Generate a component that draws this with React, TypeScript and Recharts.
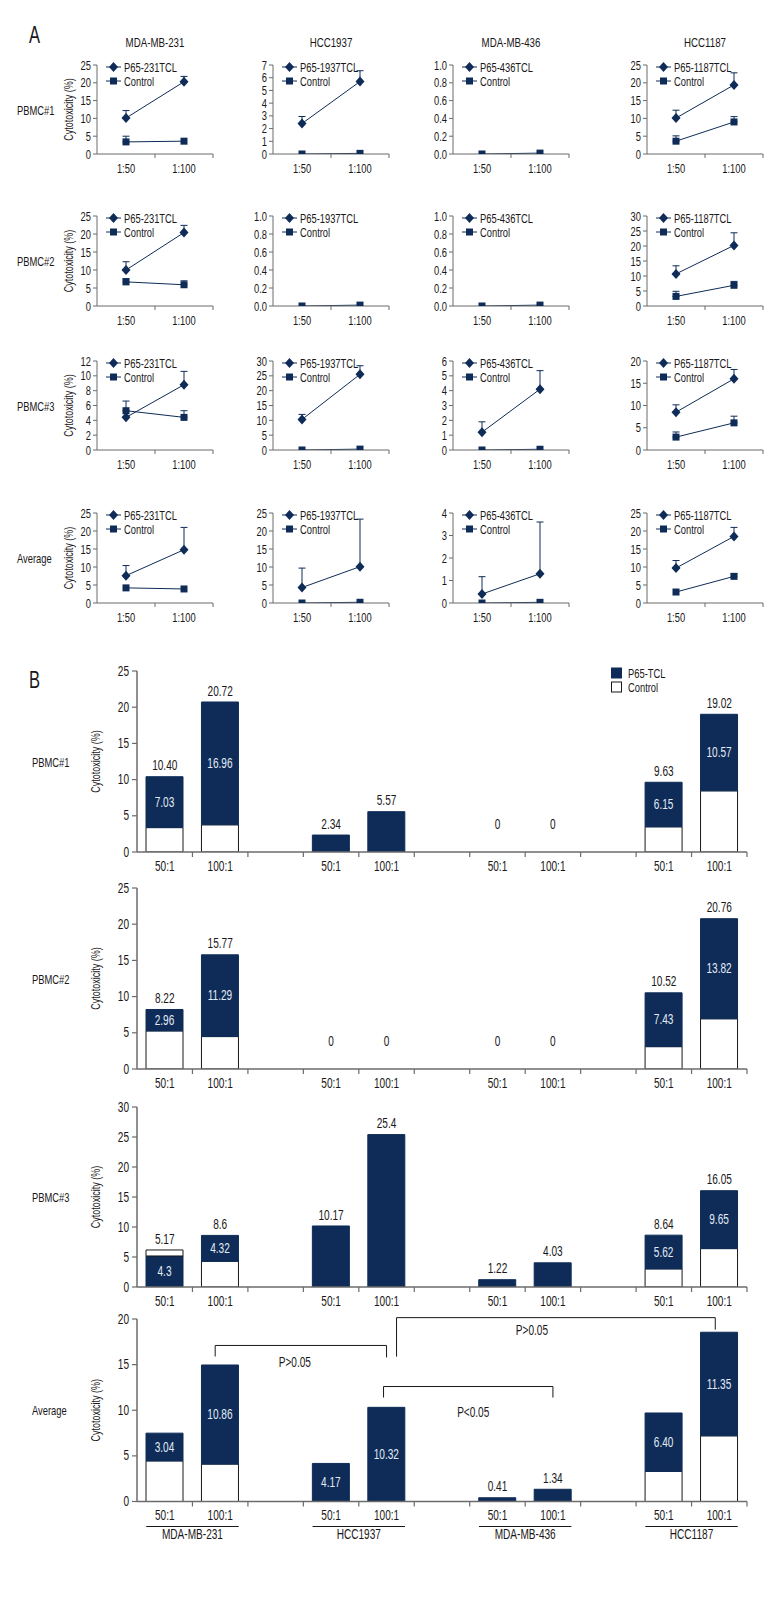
import React from 'react';
import {
  LineChart,
  Line,
  XAxis,
  YAxis,
  ErrorBar,
  BarChart,
  Bar,
  LabelList,
  ReferenceLine,
  ReferenceDot,
} from 'recharts';

const NAVY = '#0e2c57';
const AXIS_GREY = '#6b6b6b';
const INK = '#1a1718';
const FONT = "'Liberation Sans', Arial, sans-serif";
const SQ = 0.72; // horizontal squeeze, the original uses a condensed face

// ---------------- panel A data ----------------
const CELL_LINES = ['MDA-MB-231', 'HCC1937', 'MDA-MB-436', 'HCC1187'];
const DONORS = ['PBMC#1', 'PBMC#2', 'PBMC#3', 'Average'];
const RATIOS_A = ['1:50', '1:100'];
const TCL_NAMES = ['P65-231TCL', 'P65-1937TCL', 'P65-436TCL', 'P65-1187TCL'];

// [donor][cell line] = [1:50, 1:100]
const P65_A = [
  [[10.1, 20.3], [2.4, 5.7], [null, null], [10.1, 19.4]],
  [[10.0, 20.4], [null, null], [null, null], [10.7, 20.2]],
  [[4.4, 8.8], [10.3, 25.5], [1.2, 4.1], [8.5, 16.0]],
  [[7.6, 14.8], [4.3, 10.1], [0.4, 1.3], [9.7, 18.5]],
];
const P65_ERR_A = [
  [[2.1, 1.5], [0.55, 0.85], [0, 0], [2.2, 3.4]],
  [[2.3, 2.0], [0, 0], [0, 0], [2.7, 4.2]],
  [[0, 1.8], [1.7, 2.9], [0.7, 1.25], [1.65, 2.1]],
  [[2.8, 6.2], [5.4, 13.2], [0.77, 2.3], [2.1, 2.5]],
];
const CONTROL_A = [
  [[3.4, 3.6], [0, 0.05], [0, 0.01], [3.6, 9.0]],
  [[6.7, 5.9], [0, 0.01], [0, 0.01], [3.2, 6.9]],
  [[5.3, 4.4], [0, 0.3], [0, 0.05], [2.9, 6.1]],
  [[4.2, 3.9], [0, 0.2], [0, 0.03], [3.05, 7.4]],
];
const CONTROL_ERR_A = [
  [[1.6, 0], [0, 0], [0, 0], [1.5, 1.5]],
  [[0.9, 1.1], [0, 0], [0, 0], [1.7, 1.3]],
  [[1.3, 0.9], [0, 0], [0, 0], [1.15, 1.5]],
  [[0, 0], [0, 0], [0, 0], [0, 0.7]],
];

const T25 = [0, 5, 10, 15, 20, 25];
const T30 = [0, 5, 10, 15, 20, 25, 30];
const T20 = [0, 5, 10, 15, 20];
const T12 = [0, 2, 4, 6, 8, 10, 12];
const T7 = [0, 1, 2, 3, 4, 5, 6, 7];
const T6 = [0, 1, 2, 3, 4, 5, 6];
const T4 = [0, 1, 2, 3, 4];
const T1 = [0, 0.2, 0.4, 0.6, 0.8, 1.0];
const Y_TICKS_A = [
  [T25, T7, T1, T25],
  [T25, T1, T1, T30],
  [T12, T30, T6, T20],
  [T25, T25, T4, T25],
];

// ---------------- panel B data ----------------
const B_KEYS = ['231-50', '231-100', 'gap-1', '1937-50', '1937-100', 'gap-2', '436-50', '436-100', 'gap-3', '1187-50', '1187-100'];
const B_TICK_LABELS = ['50:1', '100:1', '', '50:1', '100:1', '', '50:1', '100:1', '', '50:1', '100:1'];

const PBMC1_CONTROL = [3.37, 3.76, 0, 0, 0, 0, 0, 0, 0, 3.48, 8.45];
const PBMC1_P65 = [7.03, 16.96, 0, 2.34, 5.57, 0, 0, 0, 0, 6.15, 10.57];
const PBMC1_EXTRA = [0, 0, 0, 0, 0, 0, 0, 0, 0, 0, 0];
const PBMC1_TOP = ['10.40', '20.72', null, '2.34', '5.57', null, '0', '0', null, '9.63', '19.02'];
const PBMC1_INNER = ['7.03', '16.96', null, null, null, null, null, null, null, '6.15', '10.57'];

const PBMC2_CONTROL = [5.26, 4.48, 0, 0, 0, 0, 0, 0, 0, 3.09, 6.94];
const PBMC2_P65 = [2.96, 11.29, 0, 0, 0, 0, 0, 0, 0, 7.43, 13.82];
const PBMC2_EXTRA = [0, 0, 0, 0, 0, 0, 0, 0, 0, 0, 0];
const PBMC2_TOP = ['8.22', '15.77', null, '0', '0', null, '0', '0', null, '10.52', '20.76'];
const PBMC2_INNER = ['2.96', '11.29', null, null, null, null, null, null, null, '7.43', '13.82'];

const PBMC3_CONTROL = [0, 4.28, 0, 0, 0, 0, 0, 0, 0, 3.02, 6.4];
const PBMC3_P65 = [5.17, 4.32, 0, 10.17, 25.4, 0, 1.22, 4.03, 0, 5.62, 9.65];
const PBMC3_EXTRA = [1.0, 0, 0, 0, 0, 0, 0, 0, 0, 0, 0];
const PBMC3_TOP = ['5.17', '8.6', null, '10.17', '25.4', null, '1.22', '4.03', null, '8.64', '16.05'];
const PBMC3_INNER = ['4.3', '4.32', null, null, null, null, null, null, null, '5.62', '9.65'];

const AVG_CONTROL = [4.45, 4.1, 0, 0, 0, 0, 0, 0, 0, 3.3, 7.2];
const AVG_P65 = [3.04, 10.86, 0, 4.17, 10.32, 0, 0.41, 1.34, 0, 6.4, 11.35];
const AVG_EXTRA = [0, 0, 0, 0, 0, 0, 0, 0, 0, 0, 0];
const AVG_TOP = [null, null, null, null, null, null, '0.41', '1.34', null, null, null];
const AVG_INNER = ['3.04', '10.86', null, '4.17', '10.32', null, null, null, null, '6.40', '11.35'];

const B_CONTROL = [PBMC1_CONTROL, PBMC2_CONTROL, PBMC3_CONTROL, AVG_CONTROL];
const B_P65 = [PBMC1_P65, PBMC2_P65, PBMC3_P65, AVG_P65];
const B_EXTRA = [PBMC1_EXTRA, PBMC2_EXTRA, PBMC3_EXTRA, AVG_EXTRA];
const B_TOP_LABELS = [PBMC1_TOP, PBMC2_TOP, PBMC3_TOP, AVG_TOP];
const B_INNER_LABELS = [PBMC1_INNER, PBMC2_INNER, PBMC3_INNER, AVG_INNER];
const B_Y_TICKS = [T25, T25, T30, T20];

// significance brackets on the Average chart
const BRACKETS = [
  { from: '231-100', to: '1937-100', top: 17.1, dxFrom: -5, dxTo: 0, dropFrom: 11, dropTo: 12, text: 'P>0.05', textDx: -6, textDy: 17 },
  { from: '1937-100', to: '1187-100', top: 20.15, dxFrom: 10, dxTo: -4, dropFrom: 39, dropTo: 12, text: 'P>0.05', textDx: -24, textDy: 13 },
  { from: '1937-100', to: '436-100', top: 12.6, dxFrom: -3, dxTo: 0, dropFrom: 11, dropTo: 11, text: 'P<0.05', textDx: 5, textDy: 26 },
];

// ---------------- layout ----------------
const A_COL_X = [97, 273, 453, 647];
const A_ROW_TOP = [65, 216, 361, 513];
const A_ROW_ZERO = [154, 306, 450, 603];
const A_PLOT_W = 116;
const A_YAXIS_W = 40;

const B_AXIS_X = 137;
const B_PLOT_W = 610;
const B_YAXIS_W = 50;
const B_TOP = [671, 888, 1107, 1319];
const B_ZERO = [852, 1069, 1287, 1501.5];

// squeezed svg text
const NText = ({ x, y, anchor = 'middle', size = 13, fill = INK, rotate = 0, children }: any) => (
  <g transform={`translate(${x},${y})${rotate ? ` rotate(${rotate})` : ''} scale(${SQ},1)`}>
    <text x={0} y={0} textAnchor={anchor} dominantBaseline="central" fontSize={size} fill={fill}>
      {children}
    </text>
  </g>
);

const diamondPath = (cx: number, cy: number) =>
  `M${cx},${cy - 5}L${cx + 4.5},${cy}L${cx},${cy + 5}L${cx - 4.5},${cy}Z`;

const diamondDot = (p: any) => {
  if (p.cy == null || p.value == null) return <g key={`d-${p.index}`} />;
  return <path key={`d-${p.index}`} d={diamondPath(p.cx, p.cy)} fill={NAVY} />;
};

const squareDot = (p: any) => {
  if (p.cy == null || p.value == null) return <g key={`s-${p.index}`} />;
  return <rect key={`s-${p.index}`} x={p.cx - 3.5} y={p.cy - 3.5} width={7} height={7} fill={NAVY} />;
};

const errPair = (e: number) => (e && e > 0 ? [0, e] : null);

const AxisTitle = (props: any) => {
  const { viewBox, dx } = props;
  return (
    <NText x={viewBox.x + dx} y={viewBox.y + viewBox.height / 2} rotate={-90} size={12.5}>
      Cytotoxicity (%)
    </NText>
  );
};

const YTick = (props: any) => {
  const { x, y, payload, decimals, size } = props;
  return (
    <NText x={x} y={y} anchor="end" size={size}>
      {Number(payload.value).toFixed(decimals)}
    </NText>
  );
};

const RatioTick = (props: any) => {
  const { x, y, payload, half } = props;
  return (
    <g>
      <line x1={x + half} x2={x + half} y1={y} y2={y + 4} stroke={AXIS_GREY} />
      <NText x={x} y={y + 14} size={13}>{payload.value}</NText>
    </g>
  );
};

const LegendA = ({ name }: { name: string }) => (
  <svg
    width={110}
    height={30}
    style={{ position: 'absolute', left: A_YAXIS_W + 8, top: 0, overflow: 'visible' }}
  >
    <line x1={1} x2={16} y1={8} y2={8} stroke={NAVY} />
    <path d={diamondPath(8.5, 8)} fill={NAVY} />
    <NText x={19} y={8} anchor="start" size={13}>{name}</NText>
    <line x1={1} x2={16} y1={22} y2={22} stroke={NAVY} />
    <rect x={5} y={18.5} width={7} height={7} fill={NAVY} />
    <NText x={19} y={22} anchor="start" size={13}>Control</NText>
  </svg>
);

function SmallChart({ row, col }: { row: number; col: number }) {
  const top = A_ROW_TOP[row];
  const plotH = A_ROW_ZERO[row] - top;
  const ticks = Y_TICKS_A[row][col];
  const yMax = ticks[ticks.length - 1];
  const decimals = yMax <= 1 ? 1 : 0;
  const data = RATIOS_A.map((ratio, i) => ({
    ratio,
    p65: P65_A[row][col][i],
    p65Err: errPair(P65_ERR_A[row][col][i]),
    control: CONTROL_A[row][col][i],
    controlErr: errPair(CONTROL_ERR_A[row][col][i]),
  }));
  const half = A_PLOT_W / 4;
  return (
    <div style={{ position: 'absolute', left: A_COL_X[col] - A_YAXIS_W, top: top - 6 }}>
      <LineChart
        width={A_YAXIS_W + A_PLOT_W + 4}
        height={6 + plotH + 22}
        data={data}
        margin={{ top: 6, right: 4, bottom: 0, left: 0 }}
      >
        <XAxis
          dataKey="ratio"
          height={22}
          padding={{ left: half, right: half }}
          interval={0}
          axisLine={{ stroke: AXIS_GREY }}
          tickLine={false}
          tickSize={0}
          tickMargin={0}
          tick={(p: any) => <RatioTick {...p} half={half} />}
        />
        <YAxis
          width={A_YAXIS_W}
          domain={[0, yMax]}
          ticks={ticks}
          interval={0}
          allowDataOverflow
          tickSize={4}
          tickMargin={2}
          axisLine={{ stroke: AXIS_GREY }}
          tickLine={{ stroke: AXIS_GREY }}
          tick={(p: any) => <YTick {...p} decimals={decimals} size={13} />}
          label={col === 0 ? <AxisTitle dx={11} /> : undefined}
        />
        <Line dataKey="p65" stroke={NAVY} strokeWidth={1} dot={diamondDot} isAnimationActive={false}>
          <ErrorBar dataKey="p65Err" direction="y" width={3.5} stroke={NAVY} strokeWidth={1} />
        </Line>
        <Line dataKey="control" stroke={NAVY} strokeWidth={1} dot={squareDot} isAnimationActive={false}>
          <ErrorBar dataKey="controlErr" direction="y" width={3.5} stroke={NAVY} strokeWidth={1} />
        </Line>
      </LineChart>
      <LegendA name={TCL_NAMES[col]} />
    </div>
  );
}

const BarTick = (props: any) => {
  const { x, y, index, band, groups } = props;
  const label = B_TICK_LABELS[index];
  return (
    <g>
      <line x1={x + band / 2} x2={x + band / 2} y1={y} y2={y + 5} stroke={AXIS_GREY} strokeWidth={1.2} />
      {label ? <NText x={x} y={y + 14} size={14}>{label}</NText> : null}
      {groups && label === '50:1' ? (
        <g>
          <line x1={x - 18.5} x2={x + band + 18.5} y1={y + 25} y2={y + 25} stroke={INK} />
          <NText x={x + band / 2} y={y + 33} size={14}>{CELL_LINES[Math.floor(index / 3)]}</NText>
        </g>
      ) : null}
    </g>
  );
};

const InnerLabel = (props: any) => {
  const { value } = props;
  if (value == null || value === '') return null;
  const vb = props.viewBox || props;
  return (
    <NText x={vb.x + vb.width / 2} y={vb.y + vb.height / 2} size={14} fill="#e3ebf6">
      {value}
    </NText>
  );
};

const BracketShape = (props: any) => {
  const { x1, y1, x2, b } = props;
  const xa = x1 + b.dxFrom;
  const xb = x2 + b.dxTo;
  return (
    <g>
      <path
        d={`M${xa},${y1 + b.dropFrom}V${y1}H${xb}V${y1 + b.dropTo}`}
        fill="none"
        stroke={INK}
        strokeWidth={1}
      />
      <NText x={(xa + xb) / 2 + b.textDx} y={y1 + b.textDy} size={14}>{b.text}</NText>
    </g>
  );
};

function StackedChart({ idx }: { idx: number }) {
  const top = B_TOP[idx];
  const plotH = B_ZERO[idx] - top;
  const ticks = B_Y_TICKS[idx];
  const band = B_PLOT_W / B_KEYS.length;
  const isAverage = idx === 3;
  const data = B_KEYS.map((key, i) => ({
    key,
    control: B_CONTROL[idx][i],
    p65: B_P65[idx][i],
    extra: B_EXTRA[idx][i],
    topLabel: B_TOP_LABELS[idx][i],
    innerLabel: B_INNER_LABELS[idx][i],
  }));
  return (
    <div style={{ position: 'absolute', left: 0, top: top - 10 }}>
      <BarChart
        width={780}
        height={10 + plotH + 45}
        data={data}
        barSize={37}
        margin={{ top: 10, right: 780 - B_AXIS_X - B_PLOT_W, bottom: 0, left: B_AXIS_X - B_YAXIS_W }}
      >
        <XAxis
          dataKey="key"
          height={45}
          interval={0}
          axisLine={{ stroke: AXIS_GREY, strokeWidth: 1.5 }}
          tickLine={false}
          tickSize={0}
          tickMargin={0}
          tick={(p: any) => <BarTick {...p} band={band} groups={isAverage} />}
        />
        <YAxis
          width={B_YAXIS_W}
          domain={[0, ticks[ticks.length - 1]]}
          ticks={ticks}
          interval={0}
          allowDataOverflow
          tickSize={5}
          tickMargin={3}
          axisLine={{ stroke: AXIS_GREY, strokeWidth: 1.5 }}
          tickLine={{ stroke: AXIS_GREY, strokeWidth: 1.2 }}
          tick={(p: any) => <YTick {...p} decimals={0} size={14} />}
          label={<AxisTitle dx={8} />}
        />
        <Bar dataKey="control" stackId="s" fill="#ffffff" stroke={INK} strokeWidth={1} isAnimationActive={false} />
        <Bar dataKey="p65" stackId="s" fill={NAVY} stroke={NAVY} strokeWidth={1} isAnimationActive={false}>
          <LabelList dataKey="innerLabel" content={InnerLabel} />
        </Bar>
        <Bar dataKey="extra" stackId="s" fill="#ffffff" stroke={INK} strokeWidth={1} isAnimationActive={false} />
        {data.map((d) =>
          d.topLabel != null ? (
            <ReferenceDot
              key={`top-${d.key}`}
              x={d.key}
              y={d.control + d.p65 + d.extra}
              r={0}
              ifOverflow="visible"
              shape={(p: any) => (
                <NText x={p.cx} y={p.cy - (d.topLabel === '0' ? 28 : 11)} size={14}>
                  {d.topLabel}
                </NText>
              )}
            />
          ) : null
        )}
        {isAverage
          ? BRACKETS.map((b, i) => (
              <ReferenceLine
                key={`br-${i}`}
                segment={[{ x: b.from, y: b.top }, { x: b.to, y: b.top }]}
                ifOverflow="visible"
                stroke={INK}
                shape={(p: any) => <BracketShape {...p} b={b} />}
              />
            ))
          : null}
      </BarChart>
    </div>
  );
}

const htmlText = (left: number, top: number, size: number, centered = false): React.CSSProperties => ({
  position: 'absolute',
  left,
  top,
  fontSize: size,
  lineHeight: 1,
  whiteSpace: 'nowrap',
  transformOrigin: centered ? 'center center' : 'left center',
  transform: centered ? `translate(-50%, -50%) scaleX(${SQ})` : `translateY(-50%) scaleX(${SQ})`,
});

export default function App() {
  return (
    <div
      style={{
        position: 'relative',
        width: 780,
        height: 1620,
        background: '#ffffff',
        fontFamily: FONT,
        color: INK,
        overflow: 'hidden',
      }}
    >
      <style>{'body{margin:0;}'}</style>

      {/* panel A */}
      <div style={htmlText(29, 35, 23)}>A</div>
      {CELL_LINES.map((name, c) => (
        <div key={name} style={htmlText(A_COL_X[c] + A_PLOT_W / 2, 43, 13.5, true)}>
          {name}
        </div>
      ))}
      {DONORS.map((d, r) => (
        <div key={`ra-${d}`} style={htmlText(17, (A_ROW_TOP[r] + A_ROW_ZERO[r]) / 2, 13)}>
          {d}
        </div>
      ))}
      {DONORS.map((d, r) =>
        CELL_LINES.map((c, ci) => <SmallChart key={`${d}-${c}`} row={r} col={ci} />)
      )}

      {/* panel B */}
      <div style={htmlText(29, 680, 23)}>B</div>
      {DONORS.map((d, r) => (
        <div key={`rb-${d}`} style={htmlText(32, (B_TOP[r] + B_ZERO[r]) / 2, 13)}>
          {d}
        </div>
      ))}
      {DONORS.map((d, i) => (
        <StackedChart key={`b-${d}`} idx={i} />
      ))}
      <svg width={90} height={30} style={{ position: 'absolute', left: 611, top: 667 }}>
        <rect x={0.5} y={1} width={10} height={10} fill={NAVY} stroke={NAVY} />
        <NText x={17} y={6} anchor="start" size={13}>P65-TCL</NText>
        <rect x={0.5} y={15} width={10} height={10} fill="#ffffff" stroke={INK} />
        <NText x={17} y={20} anchor="start" size={13}>Control</NText>
      </svg>
    </div>
  );
}
